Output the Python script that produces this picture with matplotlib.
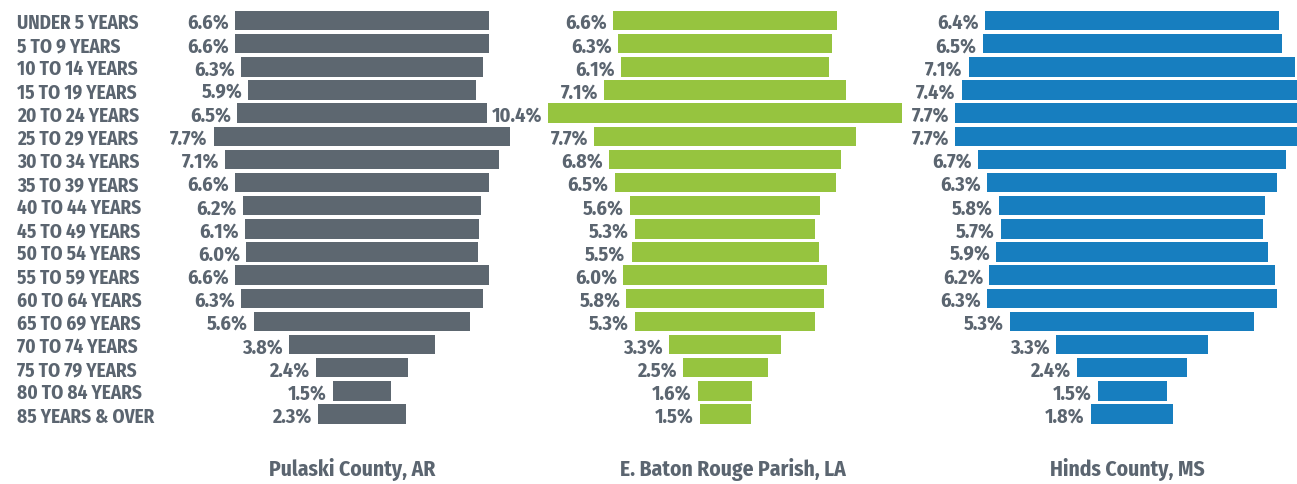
import matplotlib.pyplot as plt
from matplotlib.transforms import blended_transform_factory

age_groups = ["UNDER 5 YEARS", "5 TO 9 YEARS", "10 TO 14 YEARS", "15 TO 19 YEARS",
              "20 TO 24 YEARS", "25 TO 29 YEARS", "30 TO 34 YEARS", "35 TO 39 YEARS",
              "40 TO 44 YEARS", "45 TO 49 YEARS", "50 TO 54 YEARS", "55 TO 59 YEARS",
              "60 TO 64 YEARS", "65 TO 69 YEARS", "70 TO 74 YEARS", "75 TO 79 YEARS",
              "80 TO 84 YEARS", "85 YEARS & OVER"]

pulaski = [6.6, 6.6, 6.3, 5.9, 6.5, 7.7, 7.1, 6.6, 6.2, 6.1, 6.0, 6.6, 6.3, 5.6, 3.8, 2.4, 1.5, 2.3]
baton_rouge = [6.6, 6.3, 6.1, 7.1, 10.4, 7.7, 6.8, 6.5, 5.6, 5.3, 5.5, 6.0, 5.8, 5.3, 3.3, 2.5, 1.6, 1.5]
hinds = [6.4, 6.5, 7.1, 7.4, 7.7, 7.7, 6.7, 6.3, 5.8, 5.7, 5.9, 6.2, 6.3, 5.3, 3.3, 2.4, 1.5, 1.8]

titles = ["Pulaski County, AR", "E. Baton Rouge Parish, LA", "Hinds County, MS"]
colors = ["#5d6770", "#96c43f", "#177ebf"]

W, H = 1297, 485
TEXT = "#5b6570"
plt.rcParams["font.family"] = ["Fira Sans Condensed", "DejaVu Sans"]

fig = plt.figure(figsize=(W / 100, H / 100), dpi=100)

# panel layout in pixels: (axes left, axes right, bar centre, px per percent, title x)
panels = [(180, 545, 362, 38.5, 352),
          (545, 905, 725, 34.0, 733),
          (905, 1297, 1132, 46.0, 1127)]

row_px = 23.15
top_px = 21.5 - row_px / 2
n = len(age_groups)
ax_h = n * row_px

for (left, right, centre, scale, tx), vals, col, title in zip(panels, [pulaski, baton_rouge, hinds], colors, titles):
    ax = fig.add_axes([left / W, 1 - (top_px + ax_h) / H, (right - left) / W, ax_h / H])
    ax.set_xlim(-(centre - left) / scale, (right - centre) / scale)
    ax.set_ylim(n - 0.5, -0.5)
    ax.axis("off")
    ys = range(n)
    lefts = [-v / 2 for v in vals]
    ax.barh(ys, vals, left=lefts, height=0.84, color=col)
    off = 6 / scale
    for y, v in zip(ys, vals):
        ax.text(-v / 2 - off, y + 0.08, f"{v:.1f}%", ha="right", va="center",
                fontsize=14.5, fontweight="bold", color=TEXT, clip_on=False)
    fig.text(tx / W, 1 - 470 / H, title, ha="center", va="center",
             fontsize=15.5, fontweight="bold", color=TEXT)

    if left == 180:
        tr = blended_transform_factory(fig.transFigure, ax.transData)
        for y, lab in zip(ys, age_groups):
            ax.text(17 / W, y + 0.08, lab, transform=tr, ha="left", va="center",
                    fontsize=13.8, fontweight="bold", color=TEXT, clip_on=False)

fig.savefig("out.png", dpi=100, facecolor="white")
